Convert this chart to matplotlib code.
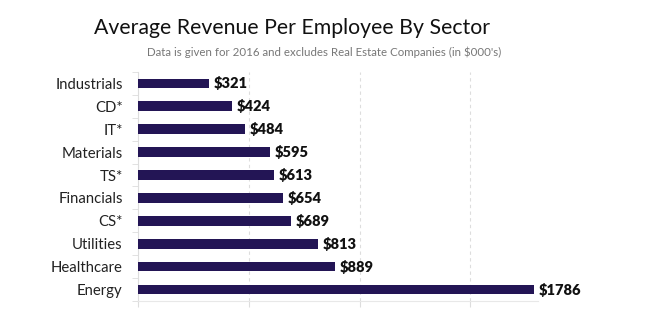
import matplotlib
matplotlib.use("Agg")
import matplotlib.pyplot as plt
import numpy as np

sectors = ["Industrials", "CD*", "IT*", "Materials", "TS*",
           "Financials", "CS*", "Utilities", "Healthcare", "Energy"]
revenue = [321, 424, 484, 595, 613, 654, 689, 813, 889, 1786]
grid_ticks = [0, 500, 1000, 1500]

plt.rcParams["font.family"] = ["Lato", "DejaVu Sans"]

fig = plt.figure(figsize=(6.49, 3.24), dpi=100)
ax = fig.add_axes([0.2126, 0.071, 0.829 - 0.2126, 0.778 - 0.071])

bar_color = "#231555"
ypos = np.arange(len(sectors))
ax.barh(ypos, revenue, height=0.42, color=bar_color, zorder=3)

for y, v in zip(ypos, revenue):
    ax.text(v + 22, y, f"${v}", va="center", ha="left",
            fontsize=10.5, fontweight="heavy", color="#111111")

ax.set_ylim(len(sectors) - 0.5, -0.5)
ax.set_xlim(0, 1805)
ax.set_yticks(ypos)
ax.set_yticklabels(sectors, fontsize=10.7, color="#222222")
ax.tick_params(axis="y", which="major", length=0, pad=11)
ax.set_yticks(np.arange(-0.5, len(sectors), 1.0), minor=True)
ax.tick_params(axis="y", which="minor", length=4, color="#dddddd", direction="out")

ax.set_xticks(grid_ticks)
ax.set_xticklabels([])
ax.tick_params(axis="x", length=4, color="#dddddd", direction="out")
ax.grid(axis="x", linestyle=(0, (3, 3)), color="#dddddd", linewidth=0.8, zorder=0)

for side in ["top", "right"]:
    ax.spines[side].set_visible(False)
ax.spines["left"].set_color("#dddddd")
ax.spines["bottom"].set_color("#e8e8e8")

fig.text(0.45, 0.915, "Average Revenue Per Employee By Sector",
         ha="center", va="center", fontsize=15.3, color="#111111")
fig.text(0.50, 0.838, "Data is given for 2016 and excludes Real Estate Companies (in $000's)",
         ha="center", va="center", fontsize=8.3, color="#777777")

fig.savefig("out.png", dpi=100)
